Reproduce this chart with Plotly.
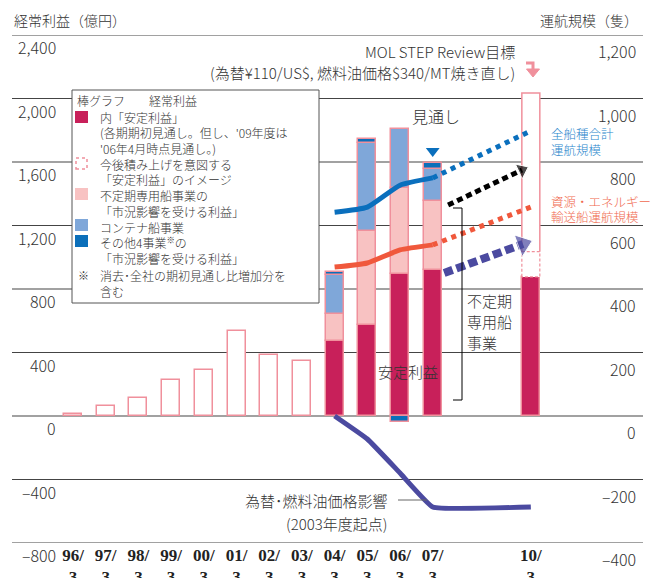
import plotly.graph_objects as go

# ---------------- data ----------------
year_labels = ["96/", "97/", "98/", "99/", "00/", "01/", "02/", "03/",
               "04/", "05/", "06/", "07/", "10/"]
year_pos = [0, 1, 2, 3, 4, 5, 6, 7, 8, 9, 10, 11, 14]

# hollow bars: 経常利益 actual (億円)
hist_x = [0, 1, 2, 3, 4, 5, 6, 7]
hist_profit = [10, 65, 115, 225, 290, 535, 385, 345]

# stacked bars (億円)
stack_x = [8, 9, 10, 11, 14]
stable_profit = [472, 573, 894, 920, 877]      # 内「安定利益」
mkt_x = [8, 9, 10, 11]
tramp_profit = [170, 592, 542, 434]            # 不定期専用船事業
container_profit = [245, 555, 372, 202]        # コンテナ船事業
other_profit = [19, 25, -35, 38]               # その他4事業
target_x = [14]
target_stable_add = [158]                      # 今後積み上げを意図する安定利益
target_rest = [1000]                           # MOL STEP Review目標 残り

# fleet size (隻, right axis)
fleet_x = [8, 9, 10, 11]
fleet_total = [642, 658, 727, 750]
fleet_energy = [469, 482, 523, 539]
plan_x = [11, 14]
fleet_total_plan = [750, 898]
fleet_energy_plan = [539, 658]

# 為替・燃料油価格影響 (億円, 2003年度起点)
fx_x = [8, 9, 10, 11, 14]
fx_impact = [0, -145, -359, -573, -573]

# outlook marker above 07/3 bar
outlook_x = [11]
outlook_y = [1669]

# illustrative arrows (left axis units)
black_arrow_x = [11.47, 13.73]
black_arrow_y = [1329, 1550]
purple_arrow_x = [11.35, 13.76]
purple_arrow_y = [901, 1083]

left_ticks = [2400, 2000, 1600, 1200, 800, 400, 0, -400, -800]
left_tick_text = ["2,400", "2,000", "1,600", "1,200", "800", "400", "0", "–400", "–800"]
right_ticks = [1200, 1000, 800, 600, 400, 200, 0, -200, -400]
right_tick_text = ["1,200", "1,000", "800", "600", "400", "200", "0", "–200", "–400"]

# ---------------- style ----------------
CRIMSON = "#c8205a"
PINK_LIGHT = "#f8c2c2"
LIGHT_BLUE = "#7fa7d9"
DARK_BLUE = "#0b6fba"
OUTLINE = "#f0909c"
BLUE_LINE = "#0a6fbd"
RED_LINE = "#f0583c"
PURPLE = "#4b4aa0"
TXT = "#333333"
JP = "Noto Sans CJK JP"
BW = 0.55

W, H = 660, 578
PL, PR, PT, PB = 12, 643, 35, 543


def px(x):
    return (x - PL) / (PR - PL)


def py(y):
    return (PB - y) / (PB - PT)


fig = go.Figure()

bar_line = dict(color=OUTLINE, width=1.5)
fig.add_trace(go.Bar(x=hist_x, y=hist_profit, width=BW,
                     marker=dict(color="white", line=bar_line)))
fig.add_trace(go.Bar(x=stack_x, y=stable_profit, width=BW,
                     marker=dict(color=CRIMSON, line=bar_line)))
fig.add_trace(go.Bar(x=mkt_x, y=tramp_profit, width=BW,
                     marker=dict(color=PINK_LIGHT, line=bar_line)))
fig.add_trace(go.Bar(x=mkt_x, y=container_profit, width=BW,
                     marker=dict(color=LIGHT_BLUE, line=bar_line)))
fig.add_trace(go.Bar(x=mkt_x, y=other_profit, width=BW,
                     marker=dict(color=DARK_BLUE, line=bar_line)))
fig.add_trace(go.Bar(x=target_x, y=target_stable_add, width=BW,
                     marker=dict(color="white", line=dict(width=0))))
fig.add_trace(go.Bar(x=target_x, y=target_rest, width=BW,
                     marker=dict(color="white", line=dict(width=0))))

# outlines of the target bar
tx = target_x[0]
base = stable_profit[-1]
mid = base + target_stable_add[0]
top = mid + target_rest[0]
fig.add_trace(go.Scatter(x=[tx - BW / 2, tx - BW / 2, tx + BW / 2, tx + BW / 2, tx - BW / 2],
                         y=[base, mid, mid, base, base], mode="lines",
                         line=dict(color=OUTLINE, width=1.2, dash="3px,2px")))
fig.add_trace(go.Scatter(x=[tx - BW / 2, tx - BW / 2, tx + BW / 2, tx + BW / 2],
                         y=[mid, top, top, mid], mode="lines",
                         line=dict(color=OUTLINE, width=1.5)))

# fleet lines (right axis)
fig.add_trace(go.Scatter(x=fleet_x, y=fleet_total, yaxis="y2", mode="lines",
                         line=dict(color=BLUE_LINE, width=5, shape="spline", smoothing=0.5)))
fig.add_trace(go.Scatter(x=plan_x, y=fleet_total_plan, yaxis="y2", mode="lines",
                         line=dict(color=BLUE_LINE, width=5, dash="5px,5px")))
fig.add_trace(go.Scatter(x=fleet_x, y=fleet_energy, yaxis="y2", mode="lines",
                         line=dict(color=RED_LINE, width=5, shape="spline", smoothing=0.5)))
fig.add_trace(go.Scatter(x=plan_x, y=fleet_energy_plan, yaxis="y2", mode="lines",
                         line=dict(color=RED_LINE, width=5, dash="5px,5px")))

# FX / bunker impact
fig.add_trace(go.Scatter(x=fx_x, y=fx_impact, mode="lines",
                         line=dict(color=PURPLE, width=5, shape="spline", smoothing=0.3)))

# arrows
fig.add_trace(go.Scatter(x=black_arrow_x, y=black_arrow_y, mode="lines+markers",
                         line=dict(color="black", width=5, dash="6px,4px"),
                         marker=dict(symbol="triangle-up", size=[0, 14], color="black",
                                     angleref="previous")))
fig.add_trace(go.Scatter(x=purple_arrow_x, y=purple_arrow_y, mode="lines+markers",
                         line=dict(color=PURPLE, width=8, dash="9px,4px"),
                         marker=dict(symbol="triangle-up", size=[0, 20], color=PURPLE,
                                     angleref="previous")))

fig.add_trace(go.Scatter(x=outlook_x, y=outlook_y, mode="markers",
                         marker=dict(symbol="triangle-down", size=12, color=BLUE_LINE)))

shapes = []
for v in left_ticks:
    shapes.append(dict(type="line", xref="paper", yref="y", x0=0, x1=1, y0=v, y1=v,
                       line=dict(color="#444444", width=1.2), layer="below"))

# bracket
shapes.append(dict(type="path", xref="paper", yref="paper",
                   path=f"M {px(453)},{py(208)} L {px(462)},{py(208)} L {px(462)},{py(400)} L {px(453)},{py(400)}",
                   line=dict(color="black", width=1)))
# connector for FX label
shapes.append(dict(type="line", xref="paper", yref="paper", x0=px(398), x1=px(427),
                   y0=py(500), y1=py(500), line=dict(color="#666666", width=1)))
# pink bent arrow
shapes.append(dict(type="path", xref="paper", yref="paper",
                   path=f"M {px(526)},{py(63)} L {px(533)},{py(63)} L {px(533)},{py(70)}",
                   line=dict(color=OUTLINE, width=3)))
shapes.append(dict(type="path", xref="paper", yref="paper",
                   path=f"M {px(526.5)},{py(69)} L {px(539.5)},{py(69)} L {px(533)},{py(77)} Z",
                   fillcolor=OUTLINE, line=dict(color=OUTLINE, width=1)))

# legend box
shapes.append(dict(type="rect", xref="paper", yref="paper", x0=px(72), x1=px(319),
                   y0=py(303), y1=py(90), fillcolor="white",
                   line=dict(color="#555555", width=1), layer="above"))
sw = [(111, CRIMSON), (188, PINK_LIGHT), (219, LIGHT_BLUE), (235, DARK_BLUE)]
for y0, col in sw:
    shapes.append(dict(type="rect", xref="paper", yref="paper", x0=px(75), x1=px(88),
                       y0=py(y0 + 12), y1=py(y0), fillcolor=col, line=dict(width=0), layer="above"))
shapes.append(dict(type="rect", xref="paper", yref="paper", x0=px(76), x1=px(87),
                   y0=py(169), y1=py(158), fillcolor="white",
                   line=dict(color=OUTLINE, width=1.5, dash="3px,3px"), layer="above"))

ann = []


def txt(x, y, s, size=12, color=TXT, xanchor="left", yanchor="middle", family=JP):
    ann.append(dict(x=px(x), y=py(y), xref="paper", yref="paper", text=s, showarrow=False,
                    xanchor=xanchor, yanchor=yanchor, align="left",
                    font=dict(size=size, color=color, family=family, weight=300)))


for v, t in zip(left_ticks, left_tick_text):
    ann.append(dict(x=px(58), y=v, xref="paper", yref="y", text=t, showarrow=False,
                    xanchor="right", yanchor="middle", yshift=-12,
                    font=dict(size=16, color=TXT, family=JP, weight=300)))
for v, t in zip(right_ticks, right_tick_text):
    ann.append(dict(x=px(638), y=v, xref="paper", yref="y2", text=t, showarrow=False,
                    xanchor="right", yanchor="middle", yshift=-16,
                    font=dict(size=16, color=TXT, family=JP, weight=300)))

txt(12, 20, "経常利益（億円）", size=14)
txt(640, 20, "運航規模（隻）", size=14, xanchor="right")
txt(517, 51, "MOL STEP Review目標", size=15, xanchor="right")
txt(517, 72, "(為替¥110/US$, 燃料油価格$340/MT焼き直し)", size=15, xanchor="right")
txt(436, 116, "見通し", size=16, xanchor="center")
txt(549, 133, "全船種合計", size=12.5, color="#2a86cc")
txt(549, 149, "運航規模", size=12.5, color="#2a86cc")
txt(549, 201, "資源・エネルギー", size=12.5, color="#f06a50")
txt(549, 216, "輸送船運航規模", size=12.5, color="#f06a50")
txt(465, 300, "不定期", size=15)
txt(465, 321, "専用船", size=15)
txt(465, 342, "事業", size=15)
txt(408, 372, "安定利益", size=15, xanchor="center")
txt(390, 500, "為替･燃料油価格影響", size=15, xanchor="right")
txt(390, 523, "(2003年度起点)", size=15, xanchor="right")

# legend text
txt(75, 100, "棒グラフ　　経常利益")
txt(98, 117, "内「安定利益」")
txt(98, 132, "(各期期初見通し。但し、'09年度は")
txt(98, 148, "'06年4月時点見通し。)")
txt(98, 164, "今後積み上げを意図する")
txt(98, 179, "「安定利益」のイメージ")
txt(98, 195, "不定期専用船事業の")
txt(98, 211, "「市況影響を受ける利益」")
txt(98, 227, "コンテナ船事業")
txt(98, 242, "その他4事業<sup>※</sup>の")
txt(98, 258, "「市況影響を受ける利益」")
txt(76, 275, "※", size=11)
txt(98, 275, "消去･全社の期初見通し比増加分を")
txt(98, 291, "含む")

fig.update_layout(
    width=W, height=H, margin=dict(l=PL, r=W - PR, t=PT, b=H - PB, autoexpand=False),
    paper_bgcolor="white", plot_bgcolor="white", showlegend=False,
    barmode="relative", bargap=0,
    shapes=shapes, annotations=ann,
    xaxis=dict(range=[-1.865, 17.43], tickvals=year_pos, automargin=False,
               ticktext=[f"{t}<br>3" for t in year_labels],
               tickfont=dict(family="Liberation Serif", size=17, color="#222222", weight="bold"),
               showgrid=False, zeroline=False, showline=False, ticks=""),
    yaxis=dict(range=[-800, 2400], showgrid=False, zeroline=False, showticklabels=False,
               ticks="", automargin=False),
    yaxis2=dict(range=[-400, 1200], overlaying="y", side="right", showgrid=False,
                zeroline=False, showticklabels=False, ticks="", automargin=False),
)

fig.write_html("out.html")
